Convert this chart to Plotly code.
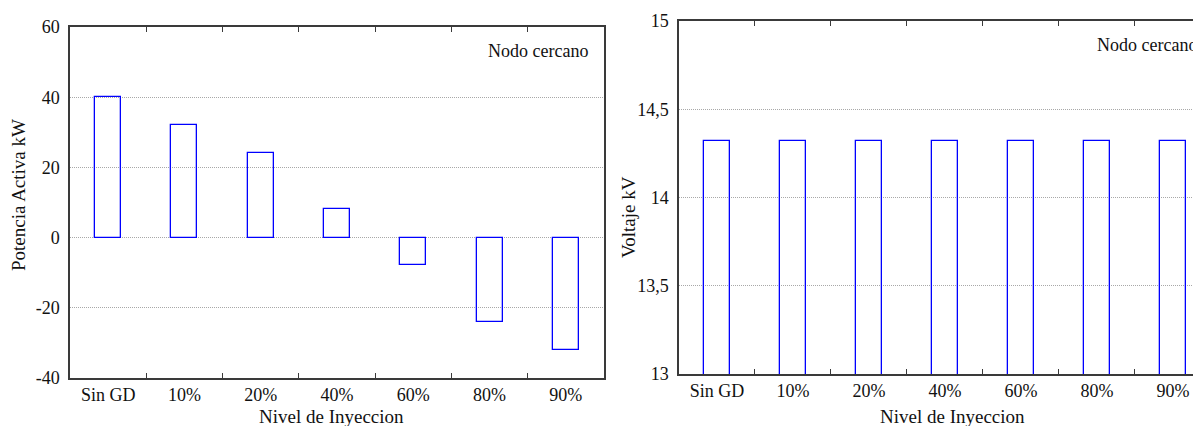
import plotly.graph_objects as go

W, H = 1193, 418
OFF = 8

categories = ["Sin GD", "10%", "20%", "40%", "60%", "80%", "90%"]
potencia_kw = [40.2, 32.1, 24.1, 8.1, -7.9, -24.0, -32.0]
voltaje_kv = [14.32, 14.32, 14.32, 14.32, 14.32, 14.32, 14.32]

pot_tickvals = [-40, -20, 0, 20, 40, 60]
pot_ticktext = ["-40", "-20", "0", "20", "40", "60"]
volt_tickvals = [13, 13.5, 14, 14.5, 15]
volt_ticktext = ["13", "13,5", "14", "14,5", "15"]

xtitle = "Nivel de Inyeccion"
ytitle_left = "Potencia Activa kW"
ytitle_right = "Voltaje kV"
note = "Nodo cercano"

FONT = "Liberation Serif"
BLUE = "#0000ff"
LINE = "#3a3a3a"


def px(x):
    return (x - OFF) / W


def py(y):
    return 1 - (y - OFF) / H


fig = go.Figure()
fig.add_trace(go.Bar(x=categories, y=potencia_kw, width=0.34,
                     marker=dict(color="rgba(255,255,255,0)", line=dict(color=BLUE, width=1.3)),
                     xaxis="x", yaxis="y", showlegend=False))
fig.add_trace(go.Bar(x=categories, y=voltaje_kv, width=0.34,
                     marker=dict(color="rgba(255,255,255,0)", line=dict(color=BLUE, width=1.3)),
                     xaxis="x2", yaxis="y2", showlegend=False))

xcommon = dict(type="category", showline=True, linecolor=LINE, linewidth=1.5,
               ticks="inside", ticklen=5, tickwidth=1.3, tickcolor=LINE,
               tickson="boundaries", mirror="ticks", showgrid=False, automargin=False,
               tickfont=dict(family=FONT, size=18, color="#111"), ticklabelstandoff=0)
ycommon = dict(showline=True, linecolor=LINE, linewidth=1.5, ticks="",
               showgrid=True, gridcolor="#a8a8a8", griddash="1px,1px", gridwidth=1,
               zeroline=False, automargin=False,
               tickfont=dict(family=FONT, size=18, color="#111"),
               ticklabelstandoff=5)

fig.update_layout(
    template="none",
    width=W, height=H,
    autosize=False,
    margin=dict(l=0, r=0, t=0, b=0, pad=0),
    paper_bgcolor="white", plot_bgcolor="white",
    font=dict(family=FONT, size=18, color="#111"),
    bargap=0,
    xaxis=dict(domain=[px(70), px(604)], anchor="y", range=[-0.5, 6.5], **xcommon),
    yaxis=dict(domain=[py(378), py(27)], anchor="x", range=[-40, 60],
               tickvals=pot_tickvals, ticktext=pot_ticktext, mirror=True, **ycommon),
    xaxis2=dict(domain=[px(679), 1], anchor="y2", range=[-0.5, 6.37], **xcommon),
    yaxis2=dict(domain=[py(374), py(21)], anchor="x2", range=[13, 15],
                tickvals=volt_tickvals, ticktext=volt_ticktext, mirror=False, **ycommon),
    annotations=[
        dict(text=note, xref="paper", yref="paper", x=px(590), y=py(51),
             xanchor="right", yanchor="middle", showarrow=False,
             font=dict(family=FONT, size=18, color="#111")),
        dict(text=note, xref="paper", yref="paper", x=px(1199), y=py(45),
             xanchor="right", yanchor="middle", showarrow=False,
             font=dict(family=FONT, size=18, color="#111")),
        dict(text=xtitle, xref="paper", yref="paper", x=px(331.5), y=py(416),
             xanchor="center", yanchor="middle", showarrow=False,
             font=dict(family=FONT, size=19, color="#111")),
        dict(text=xtitle, xref="paper", yref="paper", x=px(952), y=py(416),
             xanchor="center", yanchor="middle", showarrow=False,
             font=dict(family=FONT, size=19, color="#111")),
        dict(text=ytitle_left, xref="paper", yref="paper", x=px(18), y=py(195),
             xanchor="center", yanchor="middle", showarrow=False, textangle=-90,
             font=dict(family=FONT, size=19, color="#111")),
        dict(text=ytitle_right, xref="paper", yref="paper", x=px(628), y=py(217),
             xanchor="center", yanchor="middle", showarrow=False, textangle=-90,
             font=dict(family=FONT, size=19, color="#111")),
    ],
)

fig.write_html("out.html")
